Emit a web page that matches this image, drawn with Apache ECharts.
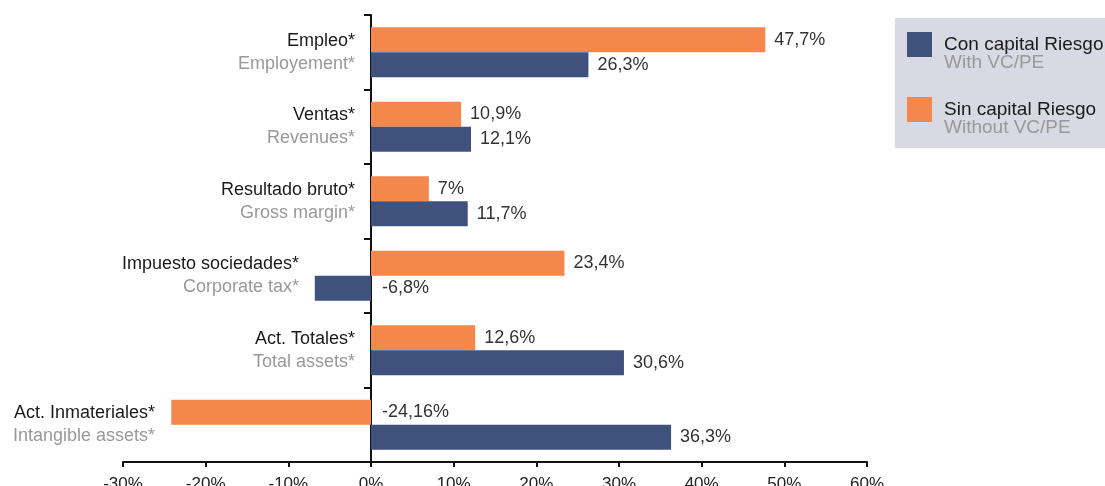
<!DOCTYPE html>
<html>
<head>
<meta charset="utf-8">
<script src="https://cdn.jsdelivr.net/npm/echarts@6/dist/echarts.min.js"></script>
<style>
  html, body { margin: 0; padding: 0; background: #fff; }
  #chart { width: 1105px; height: 486px; }
</style>
</head>
<body>
<div id="chart"></div>
<script>
// categorias (de arriba a abajo)
var catEs = ['Empleo*', 'Ventas*', 'Resultado bruto*', 'Impuesto sociedades*', 'Act. Totales*', 'Act. Inmateriales*'];
var catEn = ['Employement*', 'Revenues*', 'Gross margin*', 'Corporate tax*', 'Total assets*', 'Intangible assets*'];
// valores en %
var sinCapital = [47.7, 10.9, 7, 23.4, 12.6, -24.16];
var conCapital = [26.3, 12.1, 11.7, -6.8, 30.6, 36.3];
var legendEs = ['Con capital Riesgo', 'Sin capital Riesgo'];
var legendEn = ['With VC/PE', 'Without VC/PE'];

var FONT = '"Liberation Sans", Arial, sans-serif';

function fmt(v) {
  return String(v).replace('.', ',') + '%';
}

function labelFor(arr) {
  return arr.map(function (v) {
    return {
      value: v,
      label: { distance: v < 0 ? 11 : 9 }
    };
  });
}

// subtitulos en ingles bajo cada entrada de la leyenda
var legendSub = legendEn.map(function (t, i) {
  return {
    type: 'text',
    left: 944,
    top: 53 + i * 65,
    z: 100,
    style: { text: t, fontFamily: FONT, fontSize: 19, fill: '#999999' }
  };
});

function richFor(pads) {
  var rich = {};
  pads.forEach(function (p, i) {
    rich['a' + i] = { fontFamily: FONT, fontSize: 18, color: '#1a1a1a', lineHeight: 23, align: 'right', padding: [0, p, 0, 0] };
    rich['b' + i] = { fontFamily: FONT, fontSize: 18, color: '#999999', lineHeight: 23, align: 'right', padding: [0, p, 0, 0] };
  });
  return rich;
}

var myChart = echarts.init(document.getElementById('chart'));
myChart.setOption({
  animation: false,
  grid: {
    left: 123,
    right: 238,
    top: 15,
    bottom: 24,
    containLabel: false,
    outerBoundsMode: 'none'
  },
  legend: {
    orient: 'vertical',
    left: 895,
    top: 18,
    backgroundColor: '#d9d9e3',
    padding: [14, 60, 26, 12],
    itemWidth: 25,
    itemHeight: 25,
    itemGap: 40,
    icon: 'rect',
    data: legendEs,
    textStyle: {
      fontFamily: FONT,
      fontSize: 19,
      color: '#1a1a1a',
      padding: [0, 0, 9, 7]
    }
  },
  graphic: legendSub,
  xAxis: {
    type: 'value',
    min: -30,
    max: 60,
    interval: 10,
    axisLine: { show: true, lineStyle: { color: '#111', width: 2 } },
    axisTick: { show: true, length: 5, lineStyle: { color: '#111', width: 2 } },
    splitLine: { show: false },
    axisLabel: {
      margin: 14,
      fontFamily: FONT,
      fontSize: 17,
      color: '#222',
      formatter: function (v) { return v + '%'; }
    }
  },
  yAxis: {
    type: 'category',
    inverse: true,
    data: catEs,
    offset: -248,
    axisLine: { show: true, onZero: false, lineStyle: { color: '#111', width: 2 } },
    axisTick: { show: true, length: 7, lineStyle: { color: '#111', width: 2 } },
    axisLabel: {
      margin: 16,
      align: 'right',
      formatter: function (value, idx) {
        return '{a' + idx + '|' + value + '}\n{b' + idx + '|' + catEn[idx] + '}';
      },
      rich: richFor(catEs.map(function () { return 0; }))
    }
  },
  series: [
    {
      name: 'Sin capital Riesgo',
      type: 'bar',
      barWidth: 25,
      barGap: '0%',
      itemStyle: { color: '#f4874b' },
      label: {
        show: true,
        position: 'right',
        fontFamily: FONT,
        fontSize: 18,
        color: '#333',
        formatter: function (p) { return fmt(p.value); }
      },
      data: labelFor(sinCapital)
    },
    {
      name: 'Con capital Riesgo',
      type: 'bar',
      barWidth: 25,
      barGap: '0%',
      itemStyle: { color: '#3f527e' },
      label: {
        show: true,
        position: 'right',
        fontFamily: FONT,
        fontSize: 18,
        color: '#333',
        formatter: function (p) { return fmt(p.value); }
      },
      data: labelFor(conCapital)
    }
  ]
});

// las etiquetas se apartan de las barras negativas
var zeroX = myChart.convertToPixel({ xAxisIndex: 0 }, 0);
var pads = catEs.map(function (c, i) {
  var neg = Math.min(0, sinCapital[i], conCapital[i]);
  return neg < 0 ? Math.round(zeroX - myChart.convertToPixel({ xAxisIndex: 0 }, neg)) : 0;
});
myChart.setOption({ yAxis: { axisLabel: { rich: richFor(pads) } } });
</script>
</body>
</html>
